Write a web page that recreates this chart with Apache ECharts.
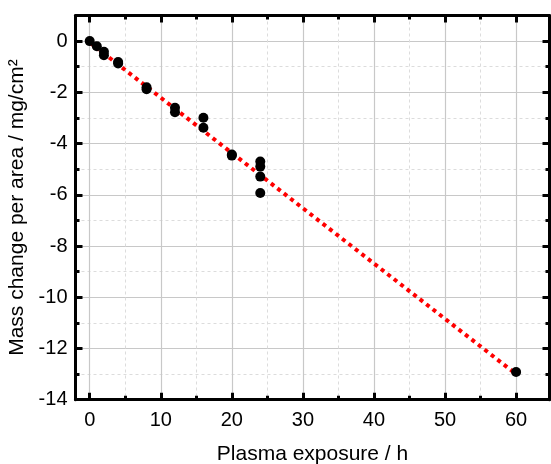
<!DOCTYPE html>
<html>
<head>
<meta charset="utf-8">
<script src="https://cdn.jsdelivr.net/npm/echarts@6/dist/echarts.min.js"></script>
<style>
html,body{margin:0;padding:0;background:#fff;}
#c{width:551px;height:464px;}
</style>
</head>
<body>
<div id="c"></div>
<script>
// Measured data: plasma exposure (h) vs mass change per area (mg/cm²)
const exposureHours = [0, 1, 2, 2, 4, 4, 8, 8, 12, 12, 16, 16, 20, 20, 24, 24, 24, 24, 60];
const massChange = [0, -0.2, -0.42, -0.55, -0.82, -0.87, -1.8, -1.88, -2.6, -2.78, -2.99, -3.38, -4.43, -4.47, -4.7, -4.9, -5.29, -5.93, -12.92];
// Linear fit line end points
const fitX = [0, 60];
const fitY = [-0.05, -13.0];
// Tick labels
const xMajorTicks = [0, 10, 20, 30, 40, 50, 60];
const xMinorTicks = [5, 15, 25, 35, 45, 55];
const yMajorTicks = [-14, -12, -10, -8, -6, -4, -2, 0];
const yMinorTicks = [-13, -11, -9, -7, -5, -3, -1];
const xTitle = 'Plasma exposure / h';
const yTitle = 'Mass change per area / mg/cm²';

const X_MIN = -2, X_MAX = 64.7, Y_MIN = -14, Y_MAX = 1;
const FONT = 'Liberation Sans, Arial, sans-serif';

function merge(base, opts) {
  const out = Object.assign({}, base);
  for (const k in opts) {
    if (opts[k] && typeof opts[k] === 'object' && !Array.isArray(opts[k]) && base[k] && typeof base[k] === 'object') {
      out[k] = Object.assign({}, base[k], opts[k]);
    } else {
      out[k] = opts[k];
    }
  }
  return out;
}
function xAxisDef(opts) {
  return merge({
    type: 'value', min: X_MIN, max: X_MAX, position: 'bottom',
    axisLine: { show: false, onZero: false, lineStyle: { color: '#000', width: 3 } },
    axisTick: { show: false },
    axisLabel: { show: false },
    splitLine: { show: false },
    minorTick: { show: false },
    minorSplitLine: { show: false }
  }, opts);
}
function yAxisDef(opts) {
  return merge({
    type: 'value', min: Y_MIN, max: Y_MAX, position: 'left',
    axisLine: { show: false, onZero: false, lineStyle: { color: '#000', width: 3 } },
    axisTick: { show: false },
    axisLabel: { show: false },
    splitLine: { show: false },
    minorTick: { show: false },
    minorSplitLine: { show: false }
  }, opts);
}
const majorTick = (vals) => ({ show: true, inside: true, length: 7, customValues: vals, lineStyle: { color: '#000', width: 3 } });
const minorTick = (vals) => ({ show: true, inside: true, length: 4, customValues: vals, lineStyle: { color: '#000', width: 3 } });

const chart = echarts.init(document.getElementById('c'), null, { renderer: 'canvas' });
chart.setOption({
  backgroundColor: '#ffffff',
  animation: false,
  grid: { left: 75.5, right: 1.5, top: 15.5, bottom: 64.3, outerBoundsMode: 'none', containLabel: false },
  xAxis: [
    xAxisDef({
      axisTick: minorTick(xMinorTicks),
      splitLine: { show: true, lineStyle: { color: '#dcdcdc', width: 1, type: [3, 3] } }
    }),
    xAxisDef({
      axisLine: { show: true },
      axisTick: majorTick(xMajorTicks),
      axisLabel: { show: true, customValues: xMajorTicks, margin: 11, fontSize: 20, color: '#000', fontFamily: FONT },
      splitLine: { show: true, lineStyle: { color: '#c8c8c8', width: 1.2 } },
      name: xTitle, nameLocation: 'middle', nameGap: 44,
      nameTextStyle: { fontSize: 21, color: '#000', fontFamily: FONT }
    }),
    xAxisDef({ position: 'top', axisLine: { show: true }, axisTick: majorTick(xMajorTicks) }),
    xAxisDef({ position: 'top', axisTick: minorTick(xMinorTicks) })
  ],
  yAxis: [
    yAxisDef({
      axisTick: minorTick(yMinorTicks),
      splitLine: { show: true, lineStyle: { color: '#dcdcdc', width: 1, type: [3, 3] } }
    }),
    yAxisDef({
      axisLine: { show: true },
      axisTick: majorTick(yMajorTicks),
      axisLabel: { show: true, customValues: yMajorTicks, margin: 8, fontSize: 20, color: '#000', fontFamily: FONT },
      splitLine: { show: true, lineStyle: { color: '#c8c8c8', width: 1.2 } },
      name: yTitle, nameLocation: 'middle', nameGap: 43, nameRotate: 90,
      nameTextStyle: { fontSize: 21, color: '#000', fontFamily: FONT }
    }),
    yAxisDef({ position: 'right', axisLine: { show: true }, axisTick: majorTick(yMajorTicks) }),
    yAxisDef({ position: 'right', axisTick: minorTick(yMinorTicks) })
  ],
  series: [
    {
      type: 'line',
      xAxisIndex: 1, yAxisIndex: 1,
      data: fitX.map((x, i) => [x, fitY[i]]),
      showSymbol: false,
      symbol: 'none',
      lineStyle: { color: '#ff0000', width: 4, type: [4, 4.2], cap: 'butt' },
      z: 3
    },
    {
      type: 'scatter',
      xAxisIndex: 1, yAxisIndex: 1,
      data: exposureHours.map((x, i) => [x, massChange[i]]),
      symbol: 'circle',
      symbolSize: 10,
      itemStyle: { color: '#000', opacity: 1, borderWidth: 0 },
      z: 4
    }
  ]
});
</script>
</body>
</html>
